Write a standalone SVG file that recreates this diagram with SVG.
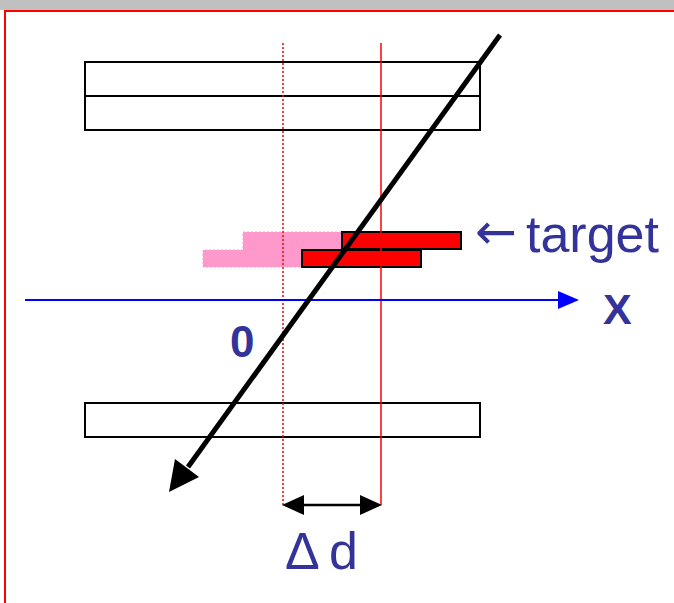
<svg xmlns="http://www.w3.org/2000/svg" width="674" height="603" viewBox="0 0 674 603">
<style>
.box{fill:#fff;stroke:#000;stroke-width:2}
.lbl{fill:#333399;font-family:"Liberation Sans",Arial,sans-serif}
.tgt{fill:#ff0000;stroke:#000;stroke-width:2}
.pink{fill:#ff99cc;stroke:#ff99cc;stroke-width:1;stroke-dasharray:2 2}
</style>
<rect x="0" y="0" width="674" height="603" fill="#fff"/>
<rect x="0" y="0" width="674" height="10" fill="#c0c0c0"/>
<rect x="5" y="11" width="680" height="600" fill="#fff" stroke="#ff0000" stroke-width="2"/>
<g id="detector-top">
<rect class="box" x="85" y="62" width="395" height="68"/>
<line x1="85" y1="96" x2="480" y2="96" stroke="#000" stroke-width="2"/>
</g>
<g id="detector-bottom">
<rect class="box" x="85" y="403" width="395" height="34"/>
</g>
<g id="target-shifted">
<path class="pink" d="M243,232 H342 V267 H203 V250 H243 Z"/>
</g>
<g id="target">
<rect class="tgt" x="342" y="232" width="119" height="17"/>
<rect class="tgt" x="302" y="250" width="119" height="17"/>
</g>
<g id="guides">
<line x1="283" y1="43" x2="283" y2="505" stroke="#ff0000" stroke-width="1.5" stroke-dasharray="2 2"/>
<line x1="381" y1="43" x2="381" y2="505" stroke="#ff0000" stroke-width="1.5"/>
</g>
<g id="connectors">
<line x1="25" y1="300" x2="563" y2="300" stroke="#0000ff" stroke-width="2"/>
<polygon points="579,300 558,291 558,309" fill="#0000ff"/>
<line x1="500" y1="35" x2="188" y2="467" stroke="#000" stroke-width="5"/>
<polygon points="169,492 175,459 199,477" fill="#000"/>
<line x1="300" y1="505" x2="364" y2="505" stroke="#000" stroke-width="2.5"/>
<polygon points="282,505 304,495 304,515" fill="#000"/>
<polygon points="382,505 360,495 360,515" fill="#000"/>
</g>
<g id="labels">
<text class="lbl" x="475" y="252" font-size="52"><tspan font-family="'DejaVu Sans',sans-serif" font-size="50" dy="-3">←</tspan><tspan dy="3" x="526">target</tspan></text>
<text class="lbl" x="603" y="324" font-size="43" font-weight="bold">X</text>
<text class="lbl" x="230" y="357" font-size="44" font-weight="bold">0</text>
<text class="lbl" y="569" font-size="52"><tspan x="285">Δ</tspan><tspan x="329">d</tspan></text>
</g>
</svg>
